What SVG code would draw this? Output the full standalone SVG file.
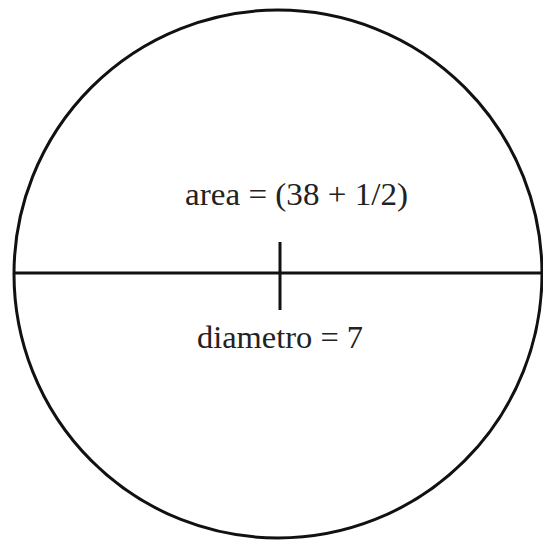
<svg xmlns="http://www.w3.org/2000/svg" width="543" height="545" viewBox="0 0 543 545">
<style>
.s{fill:none;stroke:#111;stroke-width:3}
.t{font-family:"Liberation Serif","Times New Roman",serif;font-size:32px;fill:#222}
</style>
<rect width="543" height="545" fill="#fff"/>
<g id="circle"><circle class="s" cx="278" cy="274" r="264"/></g>
<g id="connectors">
<line class="s" x1="14" y1="273" x2="543" y2="273"/>
<line class="s" x1="280" y1="242" x2="280" y2="310"/>
</g>
<g id="labels">
<text class="t" x="185" y="205" textLength="223" lengthAdjust="spacingAndGlyphs">area = (38 + 1/2)</text>
<text class="t" x="197" y="348" textLength="166" lengthAdjust="spacingAndGlyphs">diametro = 7</text>
</g>
</svg>
